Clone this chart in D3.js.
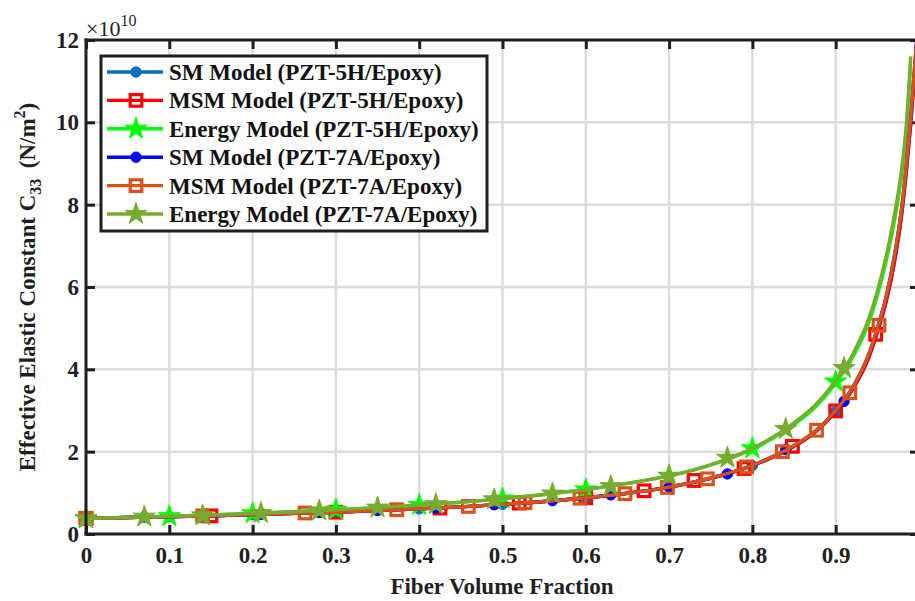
<!DOCTYPE html>
<html><head><meta charset="utf-8">
<script src="https://cdn.jsdelivr.net/npm/d3@7"></script>
<style>
html,body{margin:0;padding:0;background:#fff;overflow:hidden;}
svg{display:block;font-family:"Liberation Serif","Times New Roman",serif;}
</style></head>
<body>
<svg id="chart" width="915" height="601"></svg>
<script>
// ---------------- data (values in units of 1e10 N/m^2) ----------------
const xTicks = [0, 0.1, 0.2, 0.3, 0.4, 0.5, 0.6, 0.7, 0.8, 0.9, 1];
const xTickLabels = ["0", "0.1", "0.2", "0.3", "0.4", "0.5", "0.6", "0.7", "0.8", "0.9", ""];
const yTicks = [0, 2, 4, 6, 8, 10, 12];
const yTickLabels = ["0", "2", "4", "6", "8", "10", "12"];

const curveX = [0, 0.05, 0.1, 0.15, 0.2, 0.25, 0.3, 0.35, 0.4, 0.45, 0.5, 0.55, 0.6, 0.65, 0.7, 0.75, 0.8, 0.85, 0.875, 0.9, 0.92, 0.94, 0.95, 0.96, 0.97, 0.98, 0.985, 0.99, 0.995, 1.0];
const sm5H  = [0.38, 0.40, 0.42, 0.44, 0.47, 0.50, 0.53, 0.57, 0.61, 0.66, 0.72, 0.79, 0.88, 0.99, 1.14, 1.35, 1.66, 2.13, 2.47, 2.97, 3.50, 4.30, 4.90, 5.60, 6.55, 7.90, 8.85, 9.95, 11.25, 12.6];
const msm5H = [0.38, 0.40, 0.42, 0.44, 0.47, 0.50, 0.53, 0.57, 0.61, 0.66, 0.72, 0.79, 0.88, 0.99, 1.14, 1.35, 1.66, 2.13, 2.47, 2.97, 3.50, 4.30, 4.90, 5.60, 6.55, 7.90, 8.85, 9.95, 11.25, 12.6];
const sm7A  = [0.38, 0.40, 0.42, 0.44, 0.47, 0.50, 0.53, 0.57, 0.61, 0.66, 0.72, 0.79, 0.88, 0.99, 1.14, 1.36, 1.67, 2.15, 2.49, 3.00, 3.55, 4.38, 5.00, 5.72, 6.70, 8.05, 9.00, 10.1, 11.4, 12.8];
const msm7A = [0.38, 0.40, 0.42, 0.44, 0.47, 0.50, 0.53, 0.57, 0.61, 0.66, 0.72, 0.79, 0.88, 0.99, 1.14, 1.36, 1.67, 2.15, 2.49, 3.00, 3.55, 4.38, 5.00, 5.72, 6.70, 8.05, 9.00, 10.1, 11.4, 12.8];

const energyX = [0, 0.05, 0.1, 0.15, 0.2, 0.25, 0.3, 0.35, 0.4, 0.45, 0.5, 0.55, 0.6, 0.65, 0.7, 0.75, 0.8, 0.85, 0.875, 0.9, 0.92, 0.94, 0.95, 0.96, 0.97, 0.98, 0.985, 0.99];
const energy5H = [0.38, 0.40, 0.43, 0.46, 0.50, 0.54, 0.59, 0.64, 0.70, 0.77, 0.86, 0.96, 1.08, 1.23, 1.41, 1.68, 2.06, 2.66, 3.07, 3.66, 4.28, 5.15, 5.80, 6.58, 7.55, 8.85, 9.85, 11.4];
const energy7A = [0.38, 0.40, 0.43, 0.46, 0.50, 0.54, 0.59, 0.64, 0.70, 0.77, 0.86, 0.96, 1.08, 1.23, 1.41, 1.68, 2.08, 2.70, 3.12, 3.72, 4.35, 5.25, 5.90, 6.70, 7.70, 9.00, 10.0, 11.6];

// marker positions
const mkSm5HX = [0, 0.1, 0.2, 0.3, 0.4, 0.5, 0.6, 0.7, 0.8, 0.9];
const mkSm5HY = [0.38, 0.42, 0.47, 0.53, 0.61, 0.72, 0.88, 1.14, 1.66, 2.97];
const mkMsm5HX = [0, 0.15, 0.3, 0.425, 0.52, 0.6, 0.67, 0.73, 0.79, 0.848, 0.9, 0.948];
const mkMsm5HY = [0.38, 0.44, 0.53, 0.63, 0.75, 0.88, 1.05, 1.30, 1.59, 2.13, 2.99, 4.85];
const mkEn5HX = [0, 0.1, 0.2, 0.3, 0.4, 0.5, 0.6, 0.7, 0.8, 0.9];
const mkEn5HY = [0.38, 0.43, 0.50, 0.59, 0.70, 0.86, 1.08, 1.41, 2.08, 3.70];
const mkSm7AX = [0, 0.07, 0.14, 0.21, 0.28, 0.35, 0.42, 0.49, 0.56, 0.63, 0.70, 0.77, 0.84, 0.91];
const mkSm7AY = [0.38, 0.41, 0.44, 0.48, 0.52, 0.57, 0.63, 0.71, 0.81, 0.95, 1.14, 1.46, 2.05, 3.22];
const mkMsm7AX = [0, 0.14, 0.263, 0.373, 0.459, 0.527, 0.593, 0.647, 0.698, 0.746, 0.793, 0.836, 0.877, 0.917, 0.952];
const mkMsm7AY = [0.38, 0.44, 0.51, 0.59, 0.67, 0.76, 0.87, 0.98, 1.13, 1.34, 1.63, 2.00, 2.52, 3.43, 5.07];
const mkEn7AX = [0, 0.07, 0.14, 0.21, 0.28, 0.35, 0.42, 0.49, 0.56, 0.63, 0.70, 0.77, 0.84, 0.91];
const mkEn7AY = [0.38, 0.42, 0.45, 0.51, 0.57, 0.64, 0.72, 0.84, 0.98, 1.16, 1.41, 1.85, 2.55, 4.03];

const seriesNames = ["SM Model (PZT-5H/Epoxy)", "MSM Model (PZT-5H/Epoxy)", "Energy Model (PZT-5H/Epoxy)",
                     "SM Model (PZT-7A/Epoxy)", "MSM Model (PZT-7A/Epoxy)", "Energy Model (PZT-7A/Epoxy)"];
const seriesColors = ["#0072BD", "#FF0000", "#00FF00", "#0000FF", "#D95319", "#77AC30"];
const seriesMarkers = ["circle", "square", "star", "circle", "square", "star"];

const series = [
  {lx: curveX, ly: sm5H, mx: mkSm5HX, my: mkSm5HY},
  {lx: curveX, ly: msm5H, mx: mkMsm5HX, my: mkMsm5HY},
  {lx: energyX, ly: energy5H, mx: mkEn5HX, my: mkEn5HY},
  {lx: curveX, ly: sm7A, mx: mkSm7AX, my: mkSm7AY},
  {lx: curveX, ly: msm7A, mx: mkMsm7AX, my: mkMsm7AY},
  {lx: energyX, ly: energy7A, mx: mkEn7AX, my: mkEn7AY}
];

// ---------------- layout ----------------
const L = 86, R = 919, T = 40, B = 534;
const AX = "#1f1f1f";
const FONT = "Liberation Serif, Times New Roman, serif";
const svg = d3.select("#chart");
const x = d3.scaleLinear().domain([0, 1]).range([L, R]);
const y = d3.scaleLinear().domain([0, 12]).range([B, T]);

svg.append("defs").append("clipPath").attr("id", "clip")
  .append("rect").attr("x", L).attr("y", T).attr("width", R - L).attr("height", B - T);

// grid
const grid = svg.append("g");
grid.selectAll(".gx").data(xTicks.slice(1, -1)).enter().append("line")
  .attr("x1", d => x(d)).attr("x2", d => x(d)).attr("y1", T).attr("y2", B)
  .attr("stroke", "#dcdcdc").attr("stroke-width", 2.5);
grid.selectAll(".gy").data(yTicks.slice(1, -1)).enter().append("line")
  .attr("y1", d => y(d)).attr("y2", d => y(d)).attr("x1", L).attr("x2", R)
  .attr("stroke", "#dcdcdc").attr("stroke-width", 2.5);

// axes via d3 axis generators (inward ticks)
const tickLen = 9;
function styleAxis(g) {
  g.select(".domain").remove();
  g.selectAll(".tick line").attr("stroke", AX).attr("stroke-width", 3);
}
svg.append("g").attr("transform", `translate(0,${B})`)
  .call(d3.axisBottom(x).tickValues(xTicks).tickSize(-tickLen).tickFormat((d, i) => xTickLabels[i]).tickPadding(13))
  .call(styleAxis)
  .call(g => g.selectAll(".tick text").attr("font-size", 23).attr("font-weight", "bold").attr("fill", AX)
    .attr("font-family", FONT));
svg.append("g").attr("transform", `translate(0,${T})`)
  .call(d3.axisTop(x).tickValues(xTicks).tickSize(-tickLen).tickFormat(""))
  .call(styleAxis);
svg.append("g").attr("transform", `translate(${L},0)`)
  .call(d3.axisLeft(y).tickValues(yTicks).tickSize(-tickLen).tickFormat((d, i) => yTickLabels[i]).tickPadding(7))
  .call(styleAxis)
  .call(g => g.selectAll(".tick text").attr("font-size", 23).attr("font-weight", "bold").attr("fill", AX)
    .attr("font-family", FONT));
svg.append("g").attr("transform", `translate(${R},0)`)
  .call(d3.axisRight(y).tickValues(yTicks).tickSize(-tickLen).tickFormat(""))
  .call(styleAxis);

// series
const lineGen = d3.line().curve(d3.curveMonotoneX);
const plot = svg.append("g");
function drawMarker(g, type, cx, cy, color) {
  if (type === "circle") {
    g.append("circle").attr("cx", cx).attr("cy", cy).attr("r", 5.2).attr("fill", color).attr("stroke", color).attr("stroke-width", 1);
  } else if (type === "square") {
    const h = 5.8;
    g.append("rect").attr("x", cx - h).attr("y", cy - h).attr("width", 2 * h).attr("height", 2 * h)
      .attr("fill", "none").attr("stroke", color).attr("stroke-width", 3.2);
  } else {
    g.append("path").attr("d", d3.symbol().type(d3.symbolStar).size(150)())
      .attr("transform", `translate(${cx},${cy})`).attr("fill", color).attr("stroke", color).attr("stroke-width", 1);
  }
}
series.forEach((s, i) => {
  const g = plot.append("g").attr("clip-path", "url(#clip)");
  const pts = s.lx.map((v, k) => [x(v), y(s.ly[k])]);
  g.append("path").attr("d", lineGen(pts)).attr("fill", "none")
    .attr("stroke", seriesColors[i]).attr("stroke-width", 3.4).attr("stroke-linejoin", "round");
  const mg = plot.append("g");
  s.mx.forEach((v, k) => drawMarker(mg, seriesMarkers[i], x(v), y(s.my[k]), seriesColors[i]));
});

// axis box lines
svg.append("line").attr("x1", L).attr("x2", L).attr("y1", T - 1.5).attr("y2", B + 1.5).attr("stroke", AX).attr("stroke-width", 3);
svg.append("line").attr("x1", L - 1.5).attr("x2", R + 1.5).attr("y1", B).attr("y2", B).attr("stroke", AX).attr("stroke-width", 3);
svg.append("line").attr("x1", L - 1.5).attr("x2", R + 1.5).attr("y1", T).attr("y2", T).attr("stroke", AX).attr("stroke-width", 3);
svg.append("line").attr("x1", R).attr("x2", R).attr("y1", T - 1.5).attr("y2", B + 1.5).attr("stroke", AX).attr("stroke-width", 3);

// exponent label
const ex = svg.append("text").attr("x", L).attr("y", 36).attr("font-size", 22).attr("fill", AX);
ex.append("tspan").text("\u00D710");
ex.append("tspan").attr("dy", -10).attr("font-size", 16).text("10");

// axis titles
svg.append("text").attr("x", 502).attr("y", 594).attr("text-anchor", "middle")
  .attr("font-size", 23).attr("font-weight", "bold").attr("fill", AX).text("Fiber Volume Fraction");
const yt = svg.append("text").attr("transform", "translate(35,287) rotate(-90)").attr("text-anchor", "middle")
  .attr("font-size", 23).attr("font-weight", "bold").attr("fill", AX);
yt.append("tspan").text("Effective Elastic Constant C");
yt.append("tspan").attr("font-size", 16).attr("dy", 6).text("33");
yt.append("tspan").attr("dy", -6).text("\u2009 (N/m");
yt.append("tspan").attr("font-size", 16).attr("dy", -10).text("2");
yt.append("tspan").attr("dy", 10).text(")");

// legend
const lg = svg.append("g");
lg.append("rect").attr("x", 101).attr("y", 56).attr("width", 386).attr("height", 175)
  .attr("fill", "#fff").attr("stroke", AX).attr("stroke-width", 3);
seriesNames.forEach((name, i) => {
  const ry = 72 + i * 28.4;
  lg.append("line").attr("x1", 107).attr("x2", 163).attr("y1", ry).attr("y2", ry)
    .attr("stroke", seriesColors[i]).attr("stroke-width", 3.4);
  drawMarker(lg, seriesMarkers[i], 136, ry, seriesColors[i]);
  lg.append("text").attr("x", 169).attr("y", ry).attr("dy", "0.35em")
    .attr("font-size", 23).attr("font-weight", "bold").attr("fill", "#111").text(name);
});
</script>
</body></html>
